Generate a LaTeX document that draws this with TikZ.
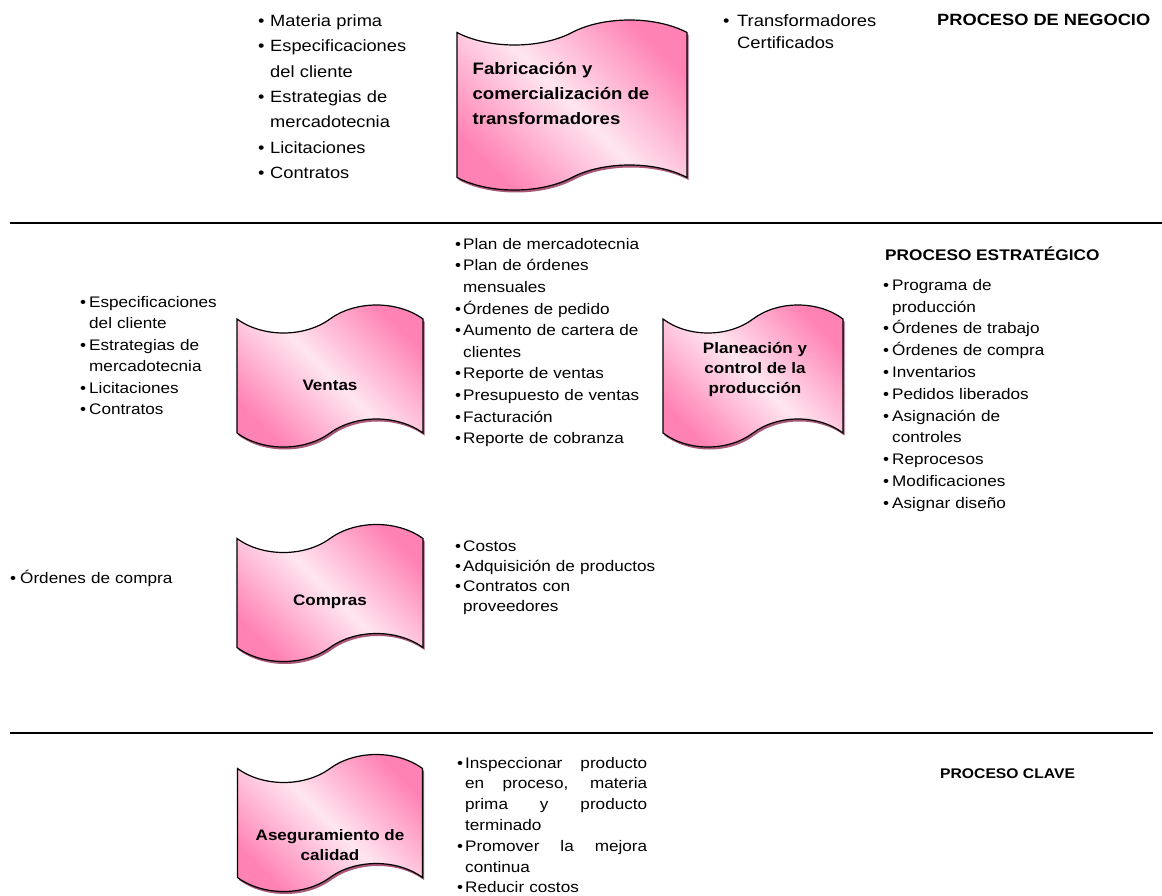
\documentclass[tikz,border=0pt]{standalone}
\usepackage{fontspec}
\setmainfont{Liberation Sans}[FakeStretch=1.12]
\usetikzlibrary{shapes.symbols,shadows}

\definecolor{tapedark}{RGB}{255,130,180}
\definecolor{tapelight}{RGB}{255,230,240}
\definecolor{tapeshadow}{RGB}{160,70,105}

% bullet item with hanging indent
\newlength\bulind
\newcommand\bul{\par\noindent\hangindent=\bulind\hangafter=1\hbox to\bulind{\textbullet\hfil}\strut}
% justified line of fixed width
\newcommand\jline[1]{{\spaceskip=0pt\xspaceskip=0pt\makebox[182pt][s]{#1}}}

\tikzset{
  papertape/.style={tape, draw=black, line width=1.2pt, inner sep=0pt,
    top color=tapedark, bottom color=tapedark, middle color=tapelight, shading angle=-45,
    tape bend height=28pt,
    drop shadow={shadow xshift=1.5pt, shadow yshift=-2.5pt, fill=tapeshadow, opacity=0.9}},
  tapetext/.style={font=\fontsize{15.2}{20}\selectfont\bfseries, align=center, inner sep=0pt},
  itemlist/.style={anchor=north west, inner sep=0pt, align=left, text width=#1},
  heading/.style={anchor=base west, inner sep=0pt},
  sepline/.style={line width=2.7pt}
}

\begin{document}
\begin{tikzpicture}[x=1pt,y=-1pt]
\useasboundingbox (0,0) rectangle (1162,896);

% separators
\draw[sepline] (10,223) -- (1162,223);
\draw[sepline] (10,733) -- (1153,733);

% business process
\node[papertape, minimum width=230pt, minimum height=170pt, tape bend height=25pt] (fab) at (572,105) {};
\node[tapetext, align=left, font=\fontsize{16.6}{25}\selectfont\bfseries] (fab-txt) at ([xshift=-11pt,yshift=12pt]fab.center)
  {Fabricación y\\comercialización de\\transformadores};
\node[itemlist=260pt, font=\fontsize{16.3}{25.3}\selectfont] (fab-in) at (258,1.2)
  {\setlength\bulind{12pt}%
   \bul Materia prima
   \bul Especificaciones\newline del cliente
   \bul Estrategias de\newline mercadotecnia
   \bul Licitaciones
   \bul Contratos\par};
\node[itemlist=260pt, font=\fontsize{16.4}{22}\selectfont] (fab-out) at (723,4.5)
  {\setlength\bulind{14pt}%
   \bul Transformadores\newline Certificados\par};
\node[heading, font=\fontsize{16.3}{20}\selectfont\bfseries] (negocio) at (937,26) {PROCESO DE NEGOCIO};

% strategic process
\node[papertape, minimum width=186pt, minimum height=142pt] (ventas) at (330,376) {};
\node[tapetext] (ventas-txt) at ([yshift=-9pt]ventas.center) {Ventas};
\node[papertape, minimum width=180pt, minimum height=142pt] (plan) at (753,376) {};
\node[tapetext] (plan-txt) at ([xshift=2pt,yshift=6pt]plan.center) {Planeación y\\control de la\\producción};
\node[papertape, minimum width=186pt, minimum height=137pt] (compras) at (330,593) {};
\node[tapetext] (compras-txt) at ([yshift=-9pt]compras.center) {Compras};

\node[itemlist=300pt, font=\fontsize{15.3}{21.5}\selectfont] (ventas-in) at (80,285.5)
  {\setlength\bulind{9pt}%
   \bul Especificaciones\newline del cliente
   \bul Estrategias de\newline mercadotecnia
   \bul Licitaciones
   \bul Contratos\par};
\node[itemlist=300pt, font=\fontsize{15.3}{21.6}\selectfont] (ventas-out) at (455,227.5)
  {\setlength\bulind{8pt}%
   \bul Plan de mercadotecnia
   \bul Plan de órdenes\newline mensuales
   \bul Órdenes de pedido
   \bul Aumento de cartera de\newline clientes
   \bul Reporte de ventas
   \bul Presupuesto de ventas
   \bul Facturación
   \bul Reporte de cobranza\par};
\node[heading, font=\fontsize{15.4}{20}\selectfont\bfseries] (estrategico) at (885,260.5) {PROCESO ESTRATÉGICO};
\node[itemlist=300pt, font=\fontsize{15.3}{21.8}\selectfont] (plan-out) at (883,268.2)
  {\setlength\bulind{9pt}%
   \bul Programa de\newline producción
   \bul Órdenes de trabajo
   \bul Órdenes de compra
   \bul Inventarios
   \bul Pedidos liberados
   \bul Asignación de\newline controles
   \bul Reprocesos
   \bul Modificaciones
   \bul Asignar diseño\par};
\node[itemlist=200pt, font=\fontsize{15.3}{20}\selectfont] (compras-in) at (10,563.5)
  {\setlength\bulind{10pt}%
   \bul Órdenes de compra\par};
\node[itemlist=300pt, font=\fontsize{15.3}{20}\selectfont] (compras-out) at (455,531.5)
  {\setlength\bulind{8pt}%
   \bul Costos
   \bul Adquisición de productos
   \bul Contratos con\newline proveedores\par};

% key process
\node[papertape, minimum width=185pt, minimum height=137pt] (calidad) at (330,823) {};
\node[tapetext] (calidad-txt) at ([yshift=-22pt]calidad.center) {Aseguramiento de\\calidad};
\node[itemlist=200pt, font=\fontsize{15.3}{20.8}\selectfont] (calidad-out) at (457,747)
  {\setlength\bulind{8pt}%
   \bul \jline{Inspeccionar producto}\newline\jline{en proceso, materia}\newline\jline{prima y producto}\newline terminado
   \bul \jline{Promover la mejora}\newline continua
   \bul Reducir costos\par};
\node[heading, font=\fontsize{14}{18}\selectfont\bfseries] (clave) at (940,778) {PROCESO CLAVE};
\end{tikzpicture}
\end{document}
